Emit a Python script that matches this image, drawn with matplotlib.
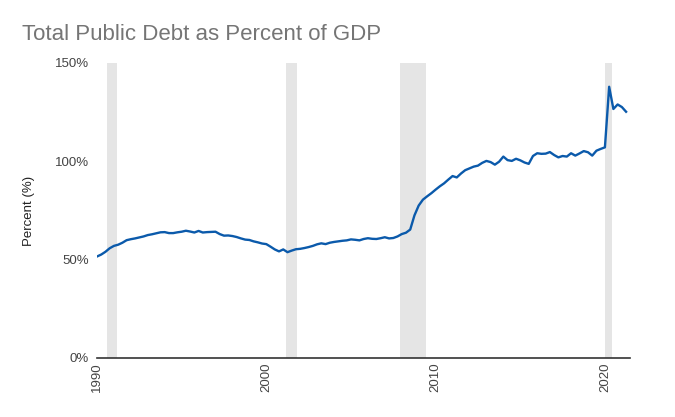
import numpy as np
import matplotlib
matplotlib.use("Agg")
from matplotlib import pyplot as plt

plt.rcParams['font.family'] = ['Liberation Sans', 'DejaVu Sans']

# quarterly debt / GDP, 1990Q1 .. 2021Q2
start_year = 1990
debt_pct = [
    51.6, 52.6, 54.0, 55.8,    # 1990
    57.0, 57.6, 58.6, 59.9,    # 1991
    60.4, 60.8, 61.3, 61.8,    # 1992
    62.5, 62.9, 63.4, 63.9,    # 1993
    64.0, 63.5, 63.5, 63.9,    # 1994
    64.2, 64.7, 64.3, 63.8,    # 1995
    64.6, 63.8, 64.0, 64.1,    # 1996
    64.2, 63.0, 62.2, 62.3,    # 1997
    62.0, 61.5, 60.8, 60.2,    # 1998
    60.0, 59.3, 58.8, 58.2,    # 1999
    57.9, 56.6, 55.2, 54.2,    # 2000
    55.2, 53.8, 54.6, 55.3,    # 2001
    55.5, 55.9, 56.4, 57.0,    # 2002
    57.8, 58.3, 57.9, 58.6,    # 2003
    59.0, 59.3, 59.6, 59.8,    # 2004
    60.3, 60.1, 59.8, 60.5,    # 2005
    60.9, 60.6, 60.5, 60.9,    # 2006
    61.4, 60.8, 61.0, 61.8,    # 2007
    63.0, 63.7, 65.3, 72.5,    # 2008
    77.5, 80.5, 82.2, 83.8,    # 2009
    85.6, 87.3, 88.8, 90.7,    # 2010
    92.5, 91.8, 93.8, 95.5,    # 2011
    96.4, 97.3, 97.8, 99.2,    # 2012
    100.2, 99.6, 98.3, 99.8,   # 2013
    102.4, 100.6, 100.2, 101.3,  # 2014
    100.5, 99.4, 98.7, 102.7,  # 2015
    104.1, 103.8, 103.9, 104.7,  # 2016
    103.2, 102.0, 102.7, 102.4,  # 2017
    104.1, 102.9, 104.0, 105.2,  # 2018
    104.6, 102.9, 105.4, 106.3,  # 2019
    107.1, 137.9, 126.6, 128.9,  # 2020
    127.6, 125.2,              # 2021
]

# recession periods (decimal years)
recession_start = [1990.58, 2001.17, 2007.92, 2020.0]
recession_end = [1991.17, 2001.83, 2009.42, 2020.42]

y_ticks = [0, 50, 100, 150]
x_ticks = [1990, 2000, 2010, 2020]

quarters = start_year + np.arange(len(debt_pct)) / 4.0

fig = plt.figure(figsize=(6.75, 4.17), dpi=100)
ax = fig.add_axes([0.1437, 0.1415, 0.7896, 0.7075])

for s, e in zip(recession_start, recession_end):
    ax.axvspan(s, e, color='#e5e5e5', lw=0, zorder=0)

ax.plot(quarters, debt_pct, color='#0b5aab', lw=1.7, zorder=3)

ax.set_xlim(1990, 2021.48)
ax.set_ylim(0, 150)
ax.set_yticks(y_ticks)
ax.set_yticklabels([f"{v}%" for v in y_ticks])
ax.set_xticks(x_ticks)
ax.set_xticklabels([str(v) for v in x_ticks], rotation=90)
ax.tick_params(axis='both', length=0, labelsize=9.5, labelcolor='#444444')
ax.tick_params(axis='y', pad=6)
ax.tick_params(axis='x', pad=3)

for side in ['top', 'right', 'left']:
    ax.spines[side].set_visible(False)
ax.spines['bottom'].set_color('#333333')
ax.spines['bottom'].set_linewidth(1.2)

ax.set_ylabel('Percent (%)', fontsize=9.5, color='#222222', labelpad=14)

fig.text(0.033, 0.905, 'Total Public Debt as Percent of GDP',
         fontsize=16, color='#757575', ha='left', va='baseline')

fig.savefig('out.png', dpi=100)
